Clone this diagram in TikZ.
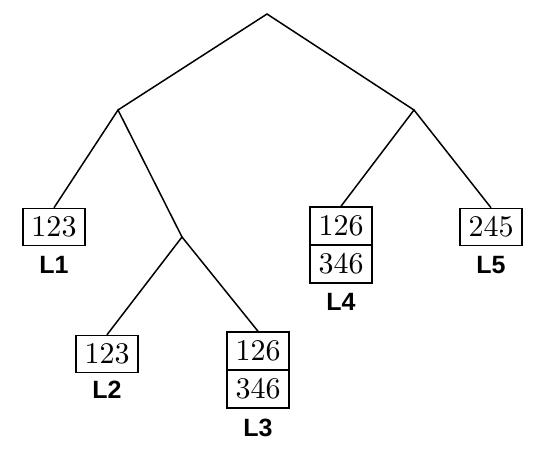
\documentclass[tikz,border=0pt]{standalone}
\usepackage{fontspec}
\usepackage{tikz}
\usetikzlibrary{positioning}
\newfontfamily\lblfont{Liberation Sans}
\newfontfamily\numfont{lmroman10-regular.otf}

\begin{document}
\begin{tikzpicture}[x=0.5pt, y=-0.5pt, line width=0.75pt,
      leaf/.style={draw, minimum width=31pt, minimum height=18.5pt, inner sep=0pt, font=\numfont\fontsize{15}{17}\selectfont},
      half/.style={leaf, minimum height=19pt},
      lbl/.style={font=\lblfont\bfseries\fontsize{12.5}{14}\selectfont, inner sep=0pt}]
      \useasboundingbox (0,0) rectangle (540,455);
      % branching points
      \coordinate (root) at (267,14);
      \coordinate (left) at (118,110);
      \coordinate (right) at (414,110);
      \coordinate (mid) at (182,237);
      % leaves
      \node[leaf] (l1) at (54,227) {123};
      \node[lbl]  (t1) at (54,265) {L1};
      \node[leaf] (l2) at (107,354) {123};
      \node[lbl]  (t2) at (107,390) {L2};
      \node[half] (l3a) at (258,351) {126};
      \node[half, below=-\pgflinewidth of l3a] (l3b) {346};
      \node[lbl]  (t3) at (258,428) {L3};
      \node[half] (l4a) at (341,226) {126};
      \node[half, below=-\pgflinewidth of l4a] (l4b) {346};
      \node[lbl]  (t4) at (341,302) {L4};
      \node[leaf] (l5) at (491,227) {245};
      \node[lbl]  (t5) at (491,265) {L5};
      % branches
      \draw (left) -- (root) -- (right);
      \draw (l1.north) -- (left) -- (mid);
      \draw (l2.north) -- (mid) -- (l3a.north);
      \draw (l4a.north) -- (right) -- (l5.north);
\end{tikzpicture}
\end{document}
